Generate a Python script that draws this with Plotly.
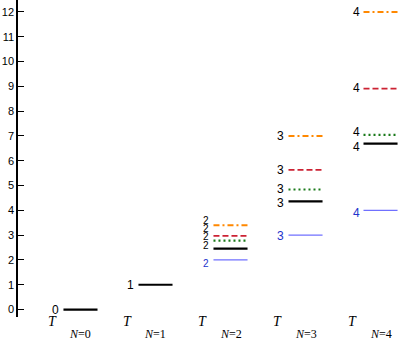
import plotly.graph_objects as go

# ---- data ----
columns = [0, 1, 2, 3, 4]
col_labels = ["N=0", "N=1", "N=2", "N=3", "N=4"]
blue_levels = [None, None, 2.0, 3.0, 4.0]
black_levels = [0.0, 1.0, 2.46, 4.36, 6.69]
green_levels = [None, None, 2.78, 4.84, 7.04]
red_levels = [None, None, 2.97, 5.63, 8.91]
orange_levels = [None, None, 3.40, 7.00, 12.0]
y_ticks = list(range(0, 13))

HALF = 0.227

series = [
    # values, color, width, dash, label color, label yshifts per column
    (blue_levels, "#7070ff", 1.2, "solid", "#2233cc", [0, 0, -4, -1, -3]),
    (black_levels, "#000000", 2.2, "solid", "#000000", [0, 0, 3, -2, -3]),
    (green_levels, "#1a7a1a", 2.2, "2px,3px", "#000000", [0, 0, 4, 1, 3]),
    (red_levels, "#cc2233", 1.8, "6px,3px", "#000000", [0, 0, 7, 0, 1]),
    (orange_levels, "#ff8800", 2.0, "6px,3px,2px,3px", "#000000", [0, 0, 5, 0, 0]),
]

fig = go.Figure()
annotations = []
for vals, color, width, dash, lcolor, shifts in series:
    xs, ys = [], []
    for n, v in zip(columns, vals):
        if v is None:
            continue
        xs += [n - HALF, n + HALF, None]
        ys += [v, v, None]
        annotations.append(dict(
            x=n - HALF, y=v, xref="x", yref="y", text=str(n), showarrow=False,
            xanchor="right", yanchor="middle", xshift=-2, yshift=shifts[n],
            font=dict(family="Liberation Sans, Arial", size=10 if n == 2 else 12,
                      color=lcolor)))
    fig.add_trace(go.Scatter(x=xs, y=ys, mode="lines",
                             line=dict(color=color, width=width, dash=dash),
                             hoverinfo="skip", showlegend=False))

# bottom labels: place in paper coords below the plotting area
for n, lab in zip(columns, col_labels):
    annotations.append(dict(
        x=n - 0.37, y=0, xref="x", yref="paper", text="<i>T</i>", showarrow=False,
        xanchor="center", yanchor="middle", yshift=-4,
        font=dict(family="Liberation Serif, Times New Roman", size=14, color="#000")))
    annotations.append(dict(
        x=n, y=0, xref="x", yref="paper",
        text="<i>N</i>=" + lab.split("=")[1], showarrow=False,
        xanchor="center", yanchor="middle", yshift=-17,
        font=dict(family="Liberation Serif, Times New Roman", size=12, color="#000")))

fig.update_layout(
    width=398, height=341,
    margin=dict(l=18, r=0, t=0, b=24),
    paper_bgcolor="white", plot_bgcolor="white",
    annotations=annotations,
    xaxis=dict(range=[-0.833, 4.233], visible=False, fixedrange=True),
    yaxis=dict(range=[-0.3, 12.48], tickvals=y_ticks, ticks="inside", ticklen=6,
               tickwidth=1, tickcolor="#000", showline=True, linecolor="#000",
               linewidth=1.5, showgrid=False, zeroline=False, automargin=False,
               fixedrange=True,
               tickfont=dict(family="Liberation Sans, Arial", size=11, color="#000")),
)

fig.write_html("out.html", config={"displayModeBar": False},
               post_script="document.body.style.margin='0';document.body.style.overflow='hidden';")
